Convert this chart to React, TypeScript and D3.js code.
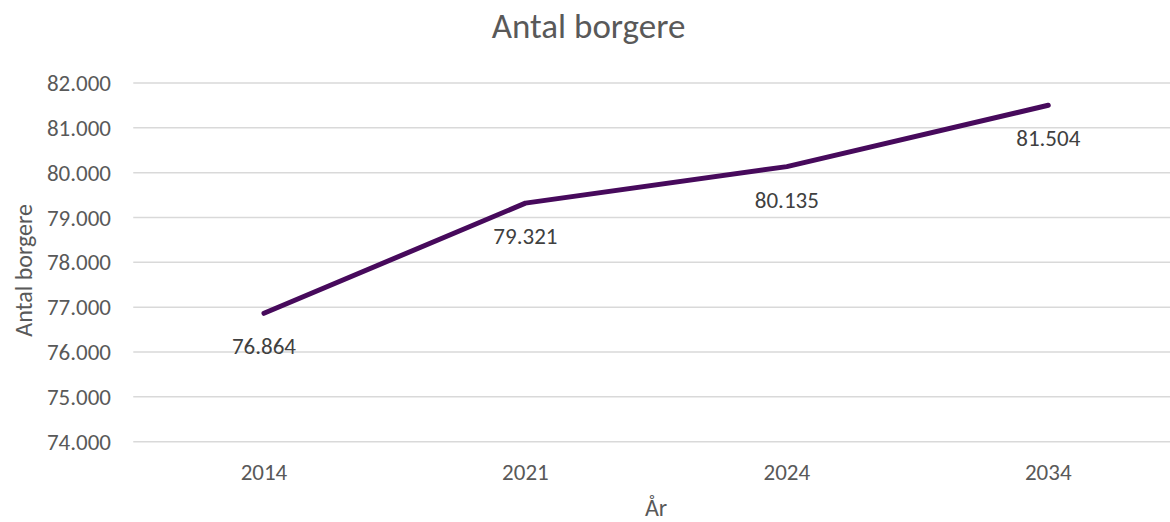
import { useEffect, useRef } from 'react';
import * as d3 from 'd3';

const years = ['2014', '2021', '2024', '2034'];
const citizens = [76864, 79321, 80135, 81504];
const yTicks = [74000, 75000, 76000, 77000, 78000, 79000, 80000, 81000, 82000];

const FONT = 'Carlito, Calibri, Lato, sans-serif';

const fmt = (v: number) => d3.format(',')(v).replace(/,/g, '.');

const App = () => {
    const svgRef = useRef<SVGSVGElement>(null);

    useEffect(() => {
        const svg = d3.select(svgRef.current);
        svg.selectAll('*').remove();

        const width = 1170;
        const height = 522;
        const left = 133.25;
        const right = 1179;
        const top = 83;
        const bottom = 441.7;

        const x = d3.scalePoint<string>()
            .domain(years)
            .range([left, right])
            .padding(0.5);

        const y = d3.scaleLinear()
            .domain([74000, 82000])
            .range([bottom, top]);

        svg.attr('width', width).attr('height', height);

        // Grid lines
        svg.append('g')
            .selectAll('line')
            .data(yTicks)
            .join('line')
            .attr('x1', left)
            .attr('x2', width)
            .attr('y1', d => y(d))
            .attr('y2', d => y(d))
            .attr('stroke', '#d9d9d9')
            .attr('stroke-width', 1.5);

        // Y tick labels
        svg.append('g')
            .selectAll('text')
            .data(yTicks)
            .join('text')
            .attr('x', 111)
            .attr('y', d => y(d))
            .attr('dy', '0.35em')
            .attr('text-anchor', 'end')
            .attr('font-family', FONT)
            .attr('font-size', 23)
            .attr('fill', '#595959')
            .text(d => fmt(d));

        // X tick labels
        svg.append('g')
            .selectAll('text')
            .data(years)
            .join('text')
            .attr('x', d => x(d)!)
            .attr('y', 480)
            .attr('text-anchor', 'middle')
            .attr('font-family', FONT)
            .attr('font-size', 23)
            .attr('fill', '#595959')
            .text(d => d);

        // Line
        const line = d3.line<number>()
            .x((_, i) => x(years[i])!)
            .y(d => y(d));

        svg.append('path')
            .datum(citizens)
            .attr('fill', 'none')
            .attr('stroke', '#470a5c')
            .attr('stroke-width', 5)
            .attr('stroke-linecap', 'round')
            .attr('stroke-linejoin', 'round')
            .attr('d', line);

        // Data labels
        svg.append('g')
            .selectAll('text')
            .data(citizens)
            .join('text')
            .attr('x', (_, i) => x(years[i])!)
            .attr('y', d => y(d) + 41)
            .attr('text-anchor', 'middle')
            .attr('font-family', FONT)
            .attr('font-size', 23)
            .attr('fill', '#404040')
            .text(d => fmt(d));

        // Title
        svg.append('text')
            .attr('x', 588.5)
            .attr('y', 38)
            .attr('text-anchor', 'middle')
            .attr('font-family', FONT)
            .attr('font-size', 35)
            .attr('fill', '#595959')
            .text('Antal borgere');

        // Axis titles
        svg.append('text')
            .attr('transform', `translate(32,${(top + bottom) / 2 + 8}) rotate(-90)`)
            .attr('text-anchor', 'middle')
            .attr('font-family', FONT)
            .attr('font-size', 24)
            .attr('fill', '#595959')
            .text('Antal borgere');

        svg.append('text')
            .attr('x', (left + right) / 2)
            .attr('y', 516)
            .attr('text-anchor', 'middle')
            .attr('font-family', FONT)
            .attr('font-size', 24)
            .attr('fill', '#595959')
            .text('År');
    }, []);

    return <svg ref={svgRef} style={{ position: 'absolute', left: 0, top: 0 }}></svg>;
};

export default App;
